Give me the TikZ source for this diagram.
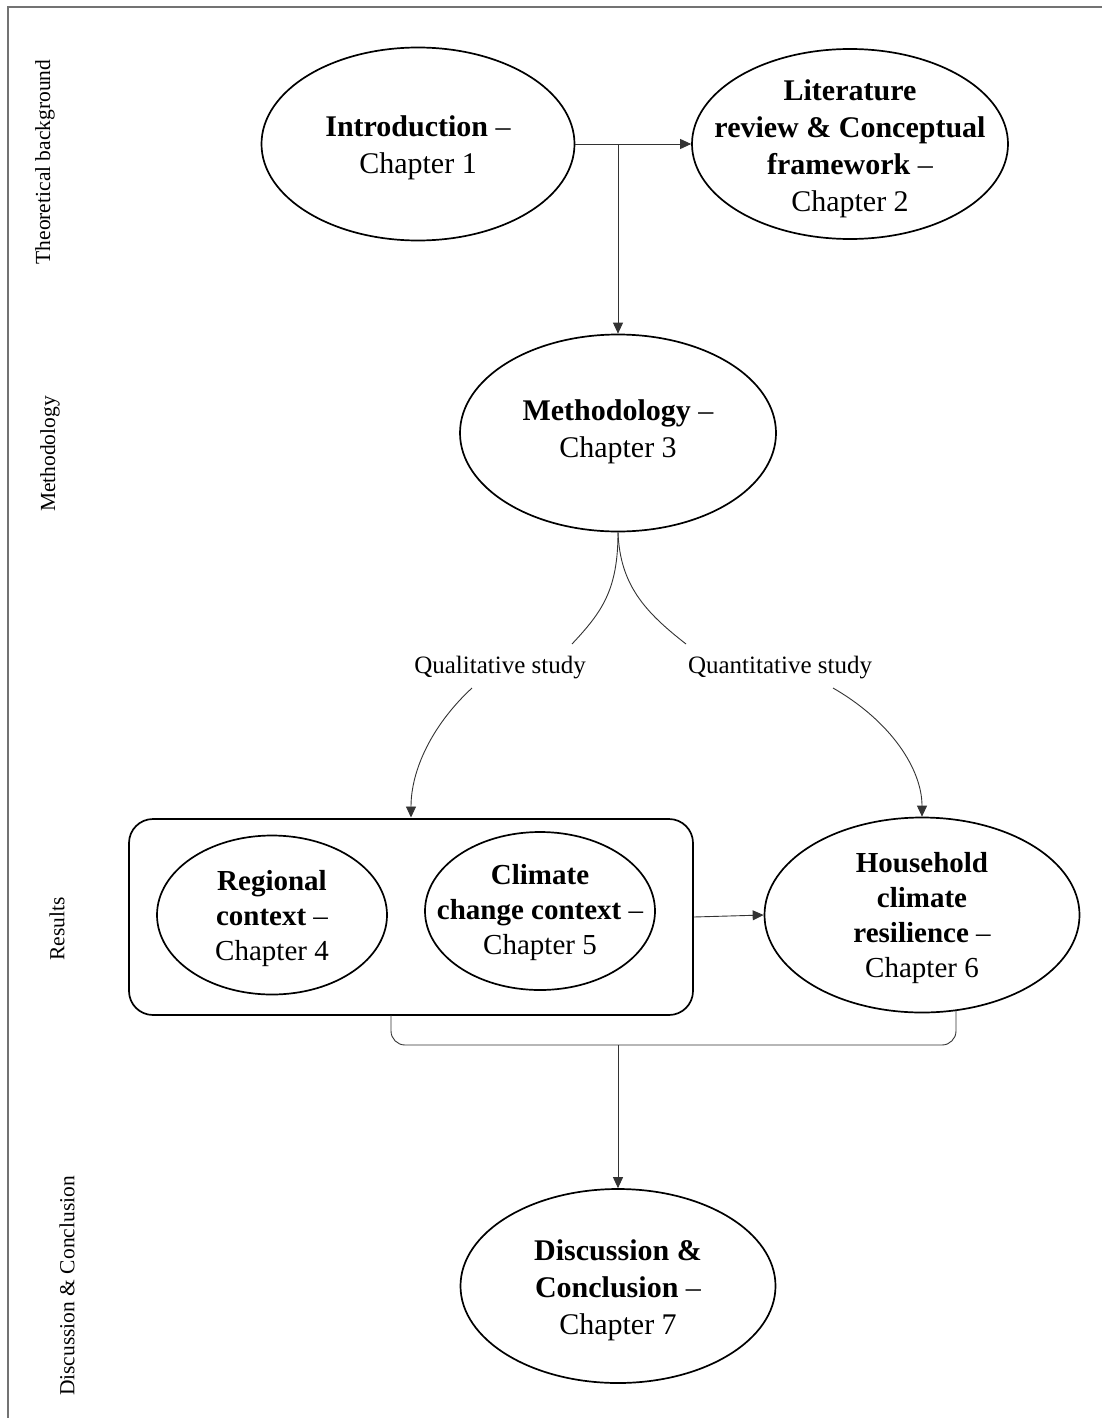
\documentclass[tikz,border=0pt]{standalone}
\usepackage{fontspec}
\setmainfont{Liberation Serif}
\usetikzlibrary{shapes.geometric,arrows.meta}
\begin{document}
\begin{tikzpicture}[x=1pt,y=-1pt,
  ell/.style={draw=black,line width=1.7pt,ellipse,inner sep=0pt,fill=none},
  txt/.style={align=center,font=\fontsize{30}{37}\selectfont,inner sep=0pt},
  txts/.style={align=center,font=\fontsize{29}{35}\selectfont,inner sep=0pt},
  side/.style={rotate=90,font=\fontsize{21.5}{24}\selectfont,inner sep=0pt},
  lab/.style={font=\fontsize{25}{28}\selectfont,inner sep=0pt},
  conn/.style={draw=black!80,line width=0.9pt},
  arr/.style={conn,-{Triangle[length=11pt,width=10pt]}}
]
\useasboundingbox (0,0) rectangle (1102,1418);
\fill[white] (0,0) rectangle (1102,1418);
% frame
\draw[black!55,line width=1.2pt] (8,1418) -- (8,7) -- (1102,7);
% side labels
\node[side] (s1) at (45,162) {Theoretical background};
\node[side] (s2) at (50,454) {Methodology};
\node[side] (s3) at (57,929) {Results};
\node[side] (s4) at (67,1286) {Discussion \& Conclusion};
% top row
\node[ell,minimum width=313pt,minimum height=193pt] (intro) at (418,144) {};
\node[txt] (introt) at (418,148) {\textbf{Introduction} –\\Chapter 1};
\node[ell,minimum width=316pt,minimum height=190pt] (lit) at (850,144) {};
\node[txt] (litt) at (850,149) {\textbf{Literature}\\\textbf{review \& Conceptual}\\\textbf{framework} –\\Chapter 2};
% methodology
\node[ell,minimum width=316pt,minimum height=197pt] (meth) at (618,433) {};
\node[txt] (metht) at (618,432) {\textbf{Methodology} –\\Chapter 3};
\coordinate (branch) at (618,144);
\draw[arr] (intro.east) -- (lit.west);
\draw[arr] (branch) -- (meth.north);
% study labels
\node[lab] (qual) at (500,668) {Qualitative study};
\node[lab] (quan) at (780,668) {Quantitative study};
\coordinate (ql1) at (572,644);
\coordinate (qn1) at (686,644);
\coordinate (ql2) at (472,688);
\coordinate (qn2) at (833,688);
\draw[conn] (meth.south) .. controls (618,590) and (602,612) .. (ql1);
\draw[conn] (meth.south) .. controls (620,585) and (645,612) .. (qn1);
% results
\node[draw=black,line width=1.7pt,rounded corners=24pt,minimum width=564pt,minimum height=196pt,inner sep=0pt] (grp) at (411,917) {};
\node[ell,minimum width=230pt,minimum height=159pt] (reg) at (272,915) {};
\node[txts] (regt) at (272,919) {\textbf{Regional}\\\textbf{context} –\\Chapter 4};
\node[ell,minimum width=230pt,minimum height=158pt] (clim) at (540,911) {};
\node[txts] (climt) at (540,913) {\textbf{Climate}\\\textbf{change context} –\\Chapter 5};
\node[ell,minimum width=315pt,minimum height=195pt] (house) at (922,915) {};
\node[txts] (houset) at (922,918) {\textbf{Household}\\\textbf{climate}\\\textbf{resilience} –\\Chapter 6};
\draw[arr] (ql2) .. controls (432,725) and (411,770) .. (411,817.5);
\draw[arr] (qn2) .. controls (892,722) and (922,770) .. (house.north);
\draw[arr] (grp.east) -- (house.west);
% bracket
\coordinate (bl) at (391,1015);
\coordinate (br) at (956,1010.5);
\coordinate (bm) at (618,1045);
\draw[conn,rounded corners=14pt] (bl) -- (391,1045) -- (956,1045) -- (br);
% discussion
\node[ell,minimum width=315pt,minimum height=194pt] (disc) at (618,1286) {};
\node[txt] (disct) at (618,1290) {\textbf{Discussion \&}\\\textbf{Conclusion} –\\Chapter 7};
\draw[arr] (bm) -- (disc.north);
\end{tikzpicture}
\end{document}
